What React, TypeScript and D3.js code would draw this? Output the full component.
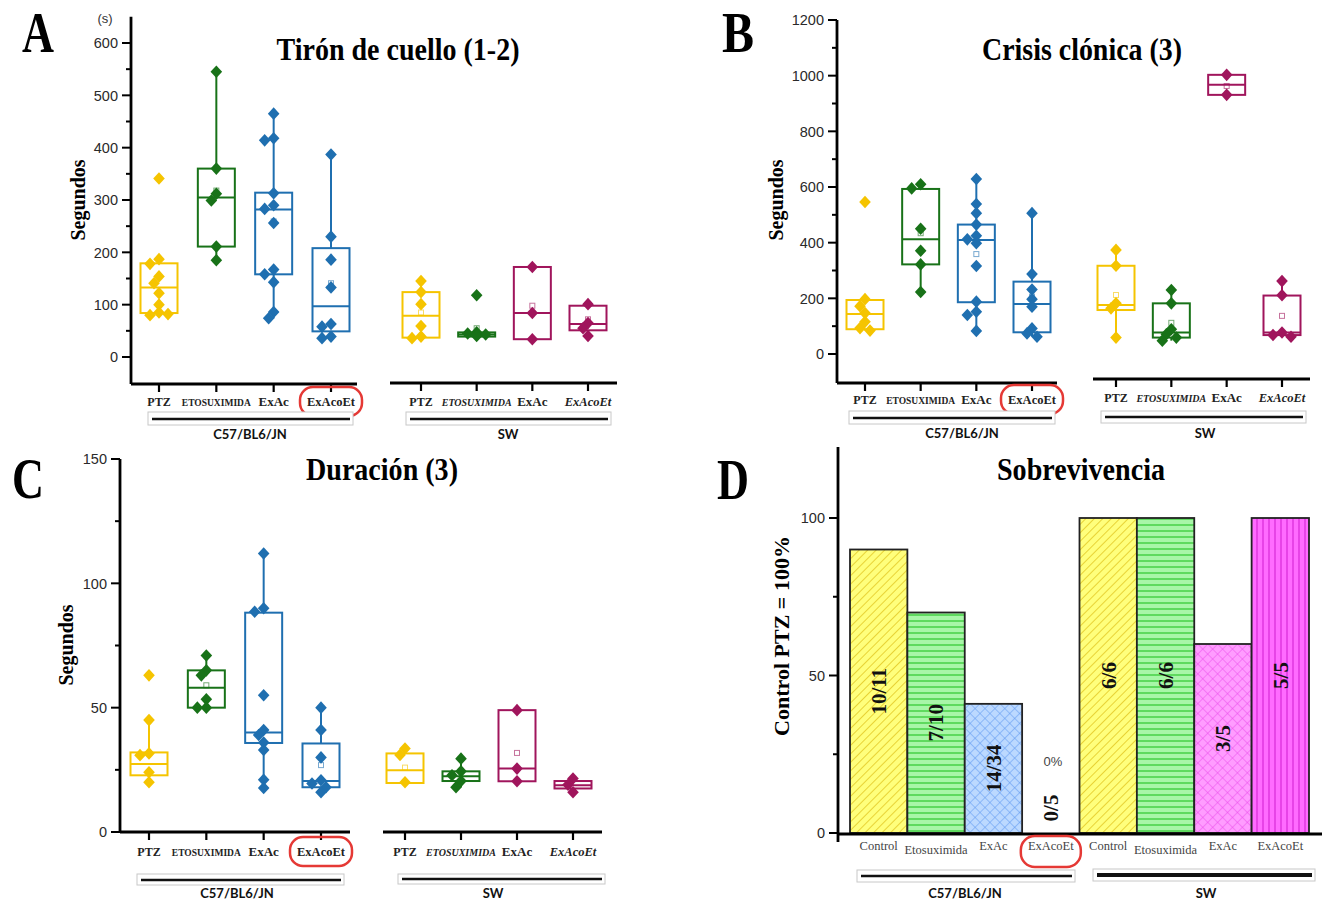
import React from "react";
import * as d3 from "d3";

const SERIF = "'Liberation Serif','Times New Roman',serif";
const SANS = "'Liberation Sans',Arial,sans-serif";
const CAL = "Lato,'Open Sans',sans-serif";

const treatments = ["PTZ", "ETOSUXIMIDA", "ExAc", "ExAcoEt"];
const colorsC57 = ["#f5c400", "#187218", "#1f6fb0", "#1f6fb0"];
const colorsSW = ["#f5c400", "#187218", "#a0155c", "#a0155c"];

// box stats: [whisker low, q1, median, q3, whisker high, mean] (mean null = hidden)
const tironC57Box = [
  [80, 84, 133, 179, 187, null],
  [185, 211, 305, 360, 545, 318],
  [74, 158, 282, 314, 465, 259],
  [36, 49, 97, 208, 387, 141],
];
const tironC57Pts = [
  [341, 187, 178, 154, 141, 122, 100, 85, 80, 82],
  [545, 360, 312, 299, 211, 185],
  [465, 418, 414, 313, 290, 283, 256, 167, 158, 143, 86, 74],
  [387, 230, 186, 133, 63, 58, 39, 36],
];
const tironSWBox = [
  [36, 37, 79, 124, 145, 85],
  [39, 39, 43, 47, 47, 55],
  [34, 34, 84, 172, 172, 98],
  [40, 51, 63, 98, 101, 72],
];
const tironSWPts = [
  [145, 124, 101, 59, 39, 36],
  [118, 47, 45, 43, 42, 40],
  [172, 84, 34],
  [101, 65, 55, 40],
];

const clonicaC57Box = [
  [84, 89, 144, 194, 197, null],
  [223, 322, 412, 593, 610, 434],
  [83, 186, 410, 465, 629, 359],
  [62, 78, 180, 260, 506, 206],
];
const clonicaC57Pts = [
  [546, 197, 172, 147, 116, 93, 84],
  [610, 595, 450, 371, 322, 223],
  [629, 539, 506, 465, 425, 412, 398, 316, 188, 152, 140, 83],
  [506, 287, 232, 197, 170, 92, 74, 62],
];
const clonicaSWBox = [
  [59, 158, 176, 317, 374, 212],
  [48, 59, 77, 182, 230, 112],
  [931, 931, 967, 1003, 1003, 963],
  [62, 68, 77, 210, 262, 137],
];
const clonicaSWPts = [
  [374, 317, 182, 164, 59],
  [230, 182, 89, 71, 59, 48],
  [1003, 931],
  [262, 211, 77, 68, 62],
];

const duracionC57Box = [
  [20, 22.8, 27.3, 32, 45, null],
  [50, 50, 58, 65, 71, 59],
  [17.7, 35.8, 40, 88.2, 112.3, null],
  [16, 18, 20.5, 35.6, 50, 26.9],
];
const duracionC57Pts = [
  [63, 45, 31.6, 30.9, 24, 20],
  [71, 65, 63, 53.4, 50, 50],
  [112, 90, 88.6, 55, 41, 39, 36, 33, 21, 17.7],
  [50, 41, 30, 20.8, 19.5, 18, 16],
];
const duracionSWBox = [
  [19.7, 19.7, 24.8, 31.6, 33.6, 25.9],
  [18, 20.5, 22.4, 24.4, 29.5, null],
  [20.4, 20.4, 25.5, 49, 49, 31.8],
  [16, 17.5, 18.8, 20.5, 21.5, null],
];
const duracionSWPts = [
  [33.6, 31, 20],
  [29.5, 24.4, 22.8, 20.5, 18],
  [49, 25.5, 20.4],
  [21.5, 19, 16],
];

const survivalCats = ["Control", "Etosuximida", "ExAc", "ExAcoEt"];
const survivalC57 = [90, 70, 41, 0];
const survivalSW = [100, 100, 60, 100];
const ratioC57 = ["10/11", "7/10", "14/34", "0/5"];
const ratioSW = ["6/6", "6/6", "3/5", "5/5"];

type Group = {
  x0: number; x1: number; axisY: number; ax0: number; ax1: number;
  br: [number, number, number, number]; lineY: number; label: string; labelX: number;
  labelY: number; labelBase: number; sw: boolean; lineW?: number;
  box: (number | null)[][]; pts: number[][]; colors: string[];
};

function dodge(vals: number[], y: (v: number) => number) {
  const placed: { x: number; y: number }[] = [];
  const cands = [0, -5, 5, -9, 9, -13, 13];
  return vals.map((v) => {
    const py = y(v);
    for (const dx of cands) {
      if (placed.every((p) => Math.hypot(p.x - dx, p.y - py) >= 7)) {
        placed.push({ x: dx, y: py });
        return { dx, py };
      }
    }
    placed.push({ x: 0, y: py });
    return { dx: 0, py };
  });
}

function catLabelStyle(cat: string, sw: boolean) {
  if (cat === "PTZ") return { size: 12, italic: false };
  if (cat === "ETOSUXIMIDA") return { size: sw ? 10 : 9.5, italic: sw };
  if (cat === "ExAc") return { size: 13, italic: false };
  return { size: 12.5, italic: sw };
}

const Bracket = ({ br, lineY, label, labelX, labelY, lineW = 2.5 }: any) => (
  <g>
    <rect x={br[0]} y={br[2]} width={br[1] - br[0]} height={br[3] - br[2]} fill="#fff" stroke="#c8c8c8" strokeWidth={1} />
    <line x1={br[0] + 4} x2={br[1] - 3} y1={lineY} y2={lineY} stroke="#111" strokeWidth={lineW} />
    <text x={labelX} y={labelY} textAnchor="middle" fontFamily={CAL} fontWeight={700} fontSize={13} fill="#111">
      {label}
    </text>
  </g>
);

function BoxGroup({ g, y }: { g: Group; y: d3.ScaleLinear<number, number> }) {
  const x = d3.scalePoint<string>().domain(treatments).range([g.x0, g.x1]);
  const bw = 37;
  return (
    <g>
      <line x1={g.ax0} x2={g.ax1} y1={g.axisY} y2={g.axisY} stroke="#000" strokeWidth={2.8} />
      {treatments.map((t) => {
        const st = catLabelStyle(t, g.sw);
        const cx = x(t)!;
        return (
          <g key={t}>
            <line x1={cx} x2={cx} y1={g.axisY} y2={g.axisY + 8} stroke="#000" strokeWidth={2.2} />
            <text x={cx} y={g.labelBase} textAnchor="middle" fontFamily={SERIF} fontWeight={700}
              fontStyle={st.italic ? "italic" : "normal"} fontSize={st.size} fill="#222">
              {t}
            </text>
            {!g.sw && t === "ExAcoEt" && (
              <rect x={cx - 31} y={g.labelBase - 19} width={62} height={29} rx={13} fill="none" stroke="#e53935" strokeWidth={2.5} />
            )}
          </g>
        );
      })}
      {g.box.map((b, i) => {
        const cx = x(treatments[i])!;
        const c = g.colors[i];
        const [lo, q1, med, q3, hi, mean] = b as number[];
        const pts = dodge(g.pts[i], y);
        return (
          <g key={i}>
            <line x1={cx} x2={cx} y1={y(q3)} y2={y(hi)} stroke={c} strokeWidth={2} />
            <line x1={cx} x2={cx} y1={y(q1)} y2={y(lo)} stroke={c} strokeWidth={2} />
            <rect x={cx - bw / 2} y={y(q3)} width={bw} height={Math.max(1, y(q1) - y(q3))} fill="none" stroke={c} strokeWidth={2} />
            <line x1={cx - bw / 2} x2={cx + bw / 2} y1={y(med)} y2={y(med)} stroke={c} strokeWidth={2} />
            {mean !== null && (
              <rect x={cx - 2.5} y={y(mean) - 2.5} width={5} height={5} fill="none" stroke={c} strokeOpacity={0.6} strokeWidth={1} />
            )}
            {pts.map((p, k) => (
              <path key={k} d="M0,-6.3L5.8,0L0,6.3L-5.8,0Z" transform={`translate(${cx + p.dx},${p.py})`} fill={c} />
            ))}
          </g>
        );
      })}
      <Bracket {...g} />
    </g>
  );
}

function YAxis({ y, ax, top, bottom, majors, minors, fmt = (d: number) => String(d) }: any) {
  return (
    <g>
      <line x1={ax} x2={ax} y1={top} y2={bottom} stroke="#000" strokeWidth={2.8} />
      {majors.map((d: number) => (
        <g key={"M" + d}>
          <line x1={ax - 9} x2={ax} y1={y(d)} y2={y(d)} stroke="#000" strokeWidth={2} />
          <text x={ax - 13} y={y(d)} dy="0.36em" textAnchor="end" fontFamily={SANS} fontSize={14.5} fill="#2a2a2a">
            {fmt(d)}
          </text>
        </g>
      ))}
      {minors.map((d: number) => (
        <line key={"m" + d} x1={ax - 5} x2={ax} y1={y(d)} y2={y(d)} stroke="#000" strokeWidth={2} />
      ))}
    </g>
  );
}

const Letter = ({ x, y, t }: any) => (
  <text x={x} y={y} fontFamily={SERIF} fontWeight={700} fontSize={56} textLength={32} lengthAdjust="spacingAndGlyphs" fill="#000">
    {t}
  </text>
);

const Title = ({ x, y, t, len }: any) => (
  <text x={x - len / 2} y={y} fontFamily={SERIF} fontWeight={700} fontSize={32} textLength={len} lengthAdjust="spacingAndGlyphs" fill="#000">
    {t}
  </text>
);

const YLabel = ({ x, y, t, size = 20 }: any) => (
  <text transform={`translate(${x},${y}) rotate(-90)`} textAnchor="middle" fontFamily={SERIF} fontWeight={700} fontSize={size} fill="#000">
    {t}
  </text>
);

function PanelA() {
  const y = d3.scaleLinear().domain([0, 600]).range([357, 43]);
  const c57: Group = {
    x0: 159, x1: 331, axisY: 384, ax0: 131, ax1: 357, br: [148, 353, 412, 425], lineY: 419,
    label: "C57/BL6/JN", labelX: 250, labelY: 439, labelBase: 406, sw: false,
    box: tironC57Box, pts: tironC57Pts, colors: colorsC57,
  };
  const sw: Group = {
    x0: 421, x1: 588, axisY: 383, ax0: 390, ax1: 617, br: [406, 611, 412, 425], lineY: 419,
    label: "SW", labelX: 508, labelY: 439, labelBase: 406, sw: true,
    box: tironSWBox, pts: tironSWPts, colors: colorsSW,
  };
  return (
    <g>
      <Letter x={22} y={52} t="A" />
      <Title x={398} y={60} t="Tirón de cuello (1-2)" len={243} />
      <text x={105} y={23} textAnchor="middle" fontFamily={SANS} fontSize={13} fill="#333">(s)</text>
      <YLabel x={85} y={200} t="Segundos" />
      <YAxis y={y} ax={131} top={y(650)} bottom={384} majors={d3.range(0, 601, 100)} minors={d3.range(50, 600, 100)} />
      <BoxGroup g={c57} y={y} />
      <BoxGroup g={sw} y={y} />
    </g>
  );
}

function PanelB() {
  const y = d3.scaleLinear().domain([0, 1200]).range([354, 20]);
  const c57: Group = {
    x0: 865, x1: 1032, axisY: 383, ax0: 837, ax1: 1057, br: [849, 1055, 411, 424], lineY: 418,
    label: "C57/BL6/JN", labelX: 962, labelY: 438, labelBase: 404, sw: false,
    box: clonicaC57Box, pts: clonicaC57Pts, colors: colorsC57,
  };
  const sw: Group = {
    x0: 1116, x1: 1282, axisY: 379, ax0: 1093, ax1: 1310, br: [1101, 1306, 411, 423], lineY: 417,
    label: "SW", labelX: 1205, labelY: 438, labelBase: 402, sw: true,
    box: clonicaSWBox, pts: clonicaSWPts, colors: colorsSW,
  };
  return (
    <g>
      <Letter x={722} y={52} t="B" />
      <Title x={1082} y={60} t="Crisis clónica (3)" len={200} />
      <YLabel x={783} y={200} t="Segundos" />
      <YAxis y={y} ax={837} top={20} bottom={383} majors={d3.range(0, 1201, 200)} minors={d3.range(100, 1200, 200)} />
      <BoxGroup g={c57} y={y} />
      <BoxGroup g={sw} y={y} />
    </g>
  );
}

function PanelC() {
  const y = d3.scaleLinear().domain([0, 150]).range([832, 459]);
  const c57: Group = {
    x0: 149, x1: 321, axisY: 832, ax0: 120, ax1: 350, br: [137, 344, 874, 885], lineY: 880,
    label: "C57/BL6/JN", labelX: 237, labelY: 898, labelBase: 856, sw: false,
    box: duracionC57Box, pts: duracionC57Pts, colors: colorsC57,
  };
  const sw: Group = {
    x0: 405, x1: 573, axisY: 832, ax0: 383, ax1: 602, br: [398, 605, 874, 884], lineY: 879,
    label: "SW", labelX: 493, labelY: 898, labelBase: 856, sw: true,
    box: duracionSWBox, pts: duracionSWPts, colors: colorsSW,
  };
  return (
    <g>
      <Letter x={12} y={498} t="C" />
      <Title x={382} y={480} t="Duración (3)" len={152} />
      <YLabel x={73} y={645} t="Segundos" />
      <YAxis y={y} ax={120} top={459} bottom={832} majors={[0, 50, 100, 150]} minors={[25, 75, 125]} />
      <BoxGroup g={c57} y={y} />
      <BoxGroup g={sw} y={y} />
    </g>
  );
}

function PanelD() {
  const y = d3.scaleLinear().domain([0, 100]).range([833, 518]);
  const keys = [...survivalCats.map((c) => "C57-" + c), ...survivalCats.map((c) => "SW-" + c)];
  const x = d3.scaleBand<string>().domain(keys).range([850, 1309]).padding(0);
  const values = [...survivalC57, ...survivalSW];
  const ratios = [...ratioC57, ...ratioSW];
  const fills = ["url(#pYel)", "url(#pGrn)", "url(#pBlu)", "none", "url(#pYel)", "url(#pGrn)", "url(#pPnk)", "url(#pMag)"];
  return (
    <g>
      <defs>
        <pattern id="pYel" width={6} height={6} patternUnits="userSpaceOnUse" patternTransform="rotate(45)">
          <rect width={6} height={6} fill="#ffff7c" />
          <line x1={0} y1={0} x2={0} y2={6} stroke="#dcbc10" strokeWidth={1.3} />
        </pattern>
        <pattern id="pGrn" width={6} height={6} patternUnits="userSpaceOnUse">
          <rect width={6} height={6} fill="#a8f6a8" />
          <line x1={0} y1={3} x2={6} y2={3} stroke="#3fcf3f" strokeWidth={1.4} />
        </pattern>
        <pattern id="pBlu" width={7} height={7} patternUnits="userSpaceOnUse" patternTransform="rotate(45)">
          <rect width={7} height={7} fill="#bcd9ff" />
          <line x1={0} y1={0} x2={0} y2={7} stroke="#5b95f0" strokeWidth={1} />
          <line x1={0} y1={0} x2={7} y2={0} stroke="#5b95f0" strokeWidth={1} />
        </pattern>
        <pattern id="pPnk" width={7} height={7} patternUnits="userSpaceOnUse" patternTransform="rotate(45)">
          <rect width={7} height={7} fill="#ff9cff" />
          <line x1={0} y1={0} x2={0} y2={7} stroke="#ec4eec" strokeWidth={1} />
          <line x1={0} y1={0} x2={7} y2={0} stroke="#ec4eec" strokeWidth={1} />
        </pattern>
        <pattern id="pMag" width={6} height={6} patternUnits="userSpaceOnUse">
          <rect width={6} height={6} fill="#ff6bff" />
          <line x1={3} y1={0} x2={3} y2={6} stroke="#d82ad8" strokeWidth={1.2} />
        </pattern>
      </defs>
      <Letter x={717} y={499} t="D" />
      <Title x={1081} y={480} t="Sobrevivencia" len={168} />
      <YLabel x={789} y={636} t="Control PTZ = 100%" size={22} />
      {keys.map((k, i) =>
        values[i] > 0 ? (
          <rect key={k} x={x(k)} y={y(values[i])} width={x.bandwidth()} height={y(0) - y(values[i])}
            fill={fills[i]} stroke="#222" strokeWidth={1.8} />
        ) : null
      )}
      {keys.map((k, i) => {
        const cx = x(k)! + x.bandwidth() / 2;
        const cy = values[i] > 0 ? (y(0) + y(values[i])) / 2 : y(0) - 25;
        return (
          <text key={"r" + k} transform={`translate(${cx},${cy}) rotate(-90)`} dy="0.35em" textAnchor="middle"
            fontFamily={SERIF} fontWeight={700} fontSize={21} fill="#111">
            {ratios[i]}
          </text>
        );
      })}
      <text x={1053} y={766} textAnchor="middle" fontFamily={SANS} fontSize={13} fill="#444">0%</text>
      <line x1={838} x2={1322} y1={834} y2={834} stroke="#000" strokeWidth={2.8} />
      <YAxis y={y} ax={838} top={447} bottom={842} majors={[0, 50, 100]} minors={[25, 75]} />
      {keys.map((k, i) => {
        const cx = x(k)! + x.bandwidth() / 2;
        const cat = survivalCats[i % 4];
        return (
          <g key={"l" + k}>
            <text x={cx} y={cat === "Etosuximida" ? 854 : 850} textAnchor="middle" fontFamily={SERIF} fontSize={12.5} fill="#444">
              {cat}
            </text>
            {i === 3 && (
              <rect x={cx - 30} y={836} width={60} height={31} rx={14} fill="none" stroke="#e53935" strokeWidth={2.5} />
            )}
          </g>
        );
      })}
      <Bracket br={[857, 1075, 870, 882]} lineY={876} label="C57/BL6/JN" labelX={965} labelY={898} />
      <Bracket br={[1093, 1315, 869, 881]} lineY={875} label="SW" labelX={1206} labelY={898} lineW={4} />
    </g>
  );
}

export default function App() {
  return (
    <svg width={1325} height={903} style={{ position: "absolute", left: 0, top: 0, background: "#fff" }}>
      <rect width={1325} height={903} fill="#fff" />
      <PanelA />
      <PanelB />
      <PanelC />
      <PanelD />
    </svg>
  );
}
